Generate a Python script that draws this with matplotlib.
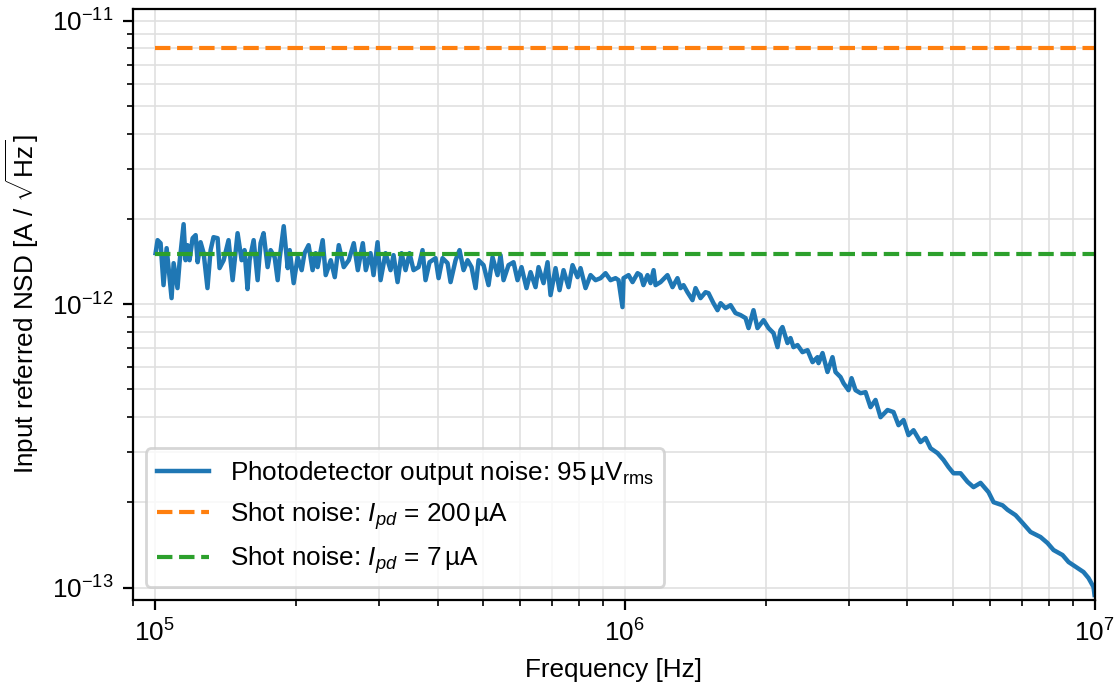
import numpy as np
import matplotlib
import matplotlib.pyplot as plt

matplotlib.use('Agg')

plt.rcParams['font.family'] = ['Liberation Sans', 'DejaVu Sans']
plt.rcParams['font.size'] = 9.4
plt.rcParams['mathtext.fontset'] = 'custom'
plt.rcParams['mathtext.rm'] = 'Liberation Sans'
plt.rcParams['mathtext.it'] = 'Liberation Sans:italic'
plt.rcParams['mathtext.bf'] = 'Liberation Sans:bold'

# -------------------------
# data
# -------------------------
# frequency in kHz, input referred noise in pA/sqrt(Hz)
freq_khz = [
    100.5, 101.5, 103.0, 104.5, 106.1, 108.7, 109.8, 111.9, 113.0, 115.3,
    116.4, 117.5, 118.7, 120.5, 122.3, 123.5, 125.3, 127.2, 129.6, 131.6,
    133.5, 136.2, 137.5, 140.3, 143.7, 146.6, 150.2, 153.2, 155.4, 157.7,
    159.3, 162.5, 165.7, 168.1, 170.6, 174.0, 176.6, 180.1, 182.8, 184.6,
    188.3, 192.0, 193.9, 197.7, 201.6, 205.6, 208.5, 212.7, 216.9, 220.2,
    222.3, 227.9, 231.3, 237.1, 241.8, 246.6, 252.7, 259.0, 265.4, 270.7,
    277.4, 281.5, 288.1, 292.4, 298.2, 302.6, 310.1, 317.8, 322.5, 328.9,
    335.4, 342.0, 348.8, 355.7, 364.5, 371.7, 377.2, 384.7, 396.2, 402.1,
    410.0, 420.2, 426.4, 437.0, 445.6, 454.5, 463.5, 472.6, 482.0, 489.1,
    501.2, 513.6, 523.8, 536.8, 544.7, 552.8, 566.5, 580.5, 592.0, 603.7,
    618.6, 631.0, 646.6, 656.2, 672.5, 685.8, 695.9, 713.2, 727.3, 741.7,
    760.1, 775.1, 794.3, 806.1, 826.1, 846.6, 867.6, 889.1, 911.1, 933.7,
    956.9, 971.0, 990, 995, 1020, 1040, 1066, 1082, 1097, 1119,
    1136, 1153, 1164, 1193, 1234, 1265, 1296, 1316, 1335, 1361,
    1395, 1416, 1451, 1487, 1509, 1546, 1577, 1601, 1640, 1681,
    1722, 1765, 1809, 1836, 1881, 1918, 1976, 2025, 2075, 2116,
    2147, 2168, 2222, 2255, 2288, 2334, 2391, 2451, 2512, 2574,
    2587, 2638, 2703, 2770, 2811, 2881, 2924, 2996, 3041, 3101,
    3178, 3257, 3337, 3420, 3505, 3627, 3735, 3828, 3923, 4020,
    4120, 4264, 4370, 4478, 4634, 4772, 4890, 5012, 5187, 5368,
    5528, 5721, 5949, 6098, 6373, 6531, 6792, 7029, 7310, 7676,
    7943, 8181, 8549, 8805, 9201, 9475, 9710, 9951, 10000,
]
nsd_pa = [
    1.513, 1.682, 1.641, 1.167, 1.576, 1.050, 1.395, 1.139, 1.395, 1.915,
    1.429, 1.615, 1.429, 1.709, 1.752, 1.406, 1.654, 1.513, 1.139, 1.551,
    1.723, 1.709, 1.340, 1.429, 1.682, 1.215, 1.780, 1.429, 1.551, 1.130,
    1.429, 1.682, 1.215, 1.641, 1.780, 1.351, 1.551, 1.465, 1.215, 1.453,
    1.884, 1.340, 1.551, 1.186, 1.465, 1.318, 1.513, 1.615, 1.318, 1.513,
    1.351, 1.682, 1.266, 1.429, 1.245, 1.615, 1.351, 1.429, 1.641, 1.318,
    1.641, 1.318, 1.513, 1.266, 1.654, 1.215, 1.513, 1.318, 1.489, 1.196,
    1.513, 1.318, 1.513, 1.318, 1.351, 1.551, 1.215, 1.406, 1.453, 1.235,
    1.453, 1.395, 1.196, 1.429, 1.551, 1.318, 1.429, 1.351, 1.139, 1.429,
    1.373, 1.167, 1.465, 1.266, 1.489, 1.215, 1.373, 1.406, 1.215, 1.351,
    1.139, 1.297, 1.148, 1.351, 1.186, 1.406, 1.076, 1.340, 1.120, 1.318,
    1.148, 1.373, 1.245, 1.340, 1.139, 1.266, 1.215, 1.235, 1.286, 1.215,
    1.235, 1.215, 0.976, 1.235, 1.266, 1.196, 1.286, 1.266, 1.167, 1.266,
    1.186, 1.318, 1.167, 1.196, 1.266, 1.148, 1.235, 1.139, 1.167, 1.102,
    1.033, 1.139, 1.050, 1.102, 1.093, 1.008, 0.952, 1.008, 0.968, 0.992,
    0.930, 0.915, 0.893, 0.823, 0.952, 0.823, 0.878, 0.823, 0.790, 0.705,
    0.810, 0.830, 0.729, 0.759, 0.705, 0.717, 0.677, 0.688, 0.624, 0.650,
    0.619, 0.672, 0.576, 0.650, 0.576, 0.553, 0.526, 0.497, 0.548, 0.497,
    0.485, 0.489, 0.433, 0.459, 0.399, 0.423, 0.416, 0.374, 0.390, 0.345,
    0.359, 0.326, 0.337, 0.310, 0.298, 0.282, 0.266, 0.253, 0.253, 0.236,
    0.226, 0.234, 0.217, 0.200, 0.195, 0.188, 0.180, 0.169, 0.157, 0.1507,
    0.1435, 0.1356, 0.1302, 0.1230, 0.1172, 0.1134, 0.1080, 0.1004, 0.0941,
]

# shot noise levels (A/sqrt(Hz))
shot_200ua = 8.0e-12
shot_7ua = 1.5e-12

f_lim = (1e5, 1e7)

freq = np.array(freq_khz) * 1e3
nsd = np.array(nsd_pa) * 1e-12

# -------------------------
# plot
# -------------------------
fig, ax = plt.subplots(figsize=(5.59, 3.475), dpi=200)
fig.subplots_adjust(left=0.119, right=0.979, top=0.987, bottom=0.137)

ax.plot(freq, nsd, color='C0', lw=1.6,
        label=r'Photodetector output noise: 95$\,$µV$_{\mathrm{rms}}$')
ax.plot(f_lim, [shot_200ua, shot_200ua], '--', color='C1', lw=1.5,
        label=r'Shot noise: $I_{pd}$ = 200$\,$µA')
ax.plot(f_lim, [shot_7ua, shot_7ua], '--', color='C2', lw=1.5,
        label=r'Shot noise: $I_{pd}$ = 7$\,$µA')

ax.set_xscale('log')
ax.set_yscale('log')
ax.set_xlim(9.0e4, 1e7)
ax.set_ylim(9.05e-14, 1.1e-11)

ax.grid(True, which='both', color='0.88', lw=0.6)
ax.set_axisbelow(True)

ax.set_xlabel('Frequency [Hz]')
ax.set_ylabel(r'Input referred NSD [A / $\sqrt{\mathrm{Hz}}$]')
ax.legend(loc='lower left')

plt.savefig('out.png', dpi=200)
